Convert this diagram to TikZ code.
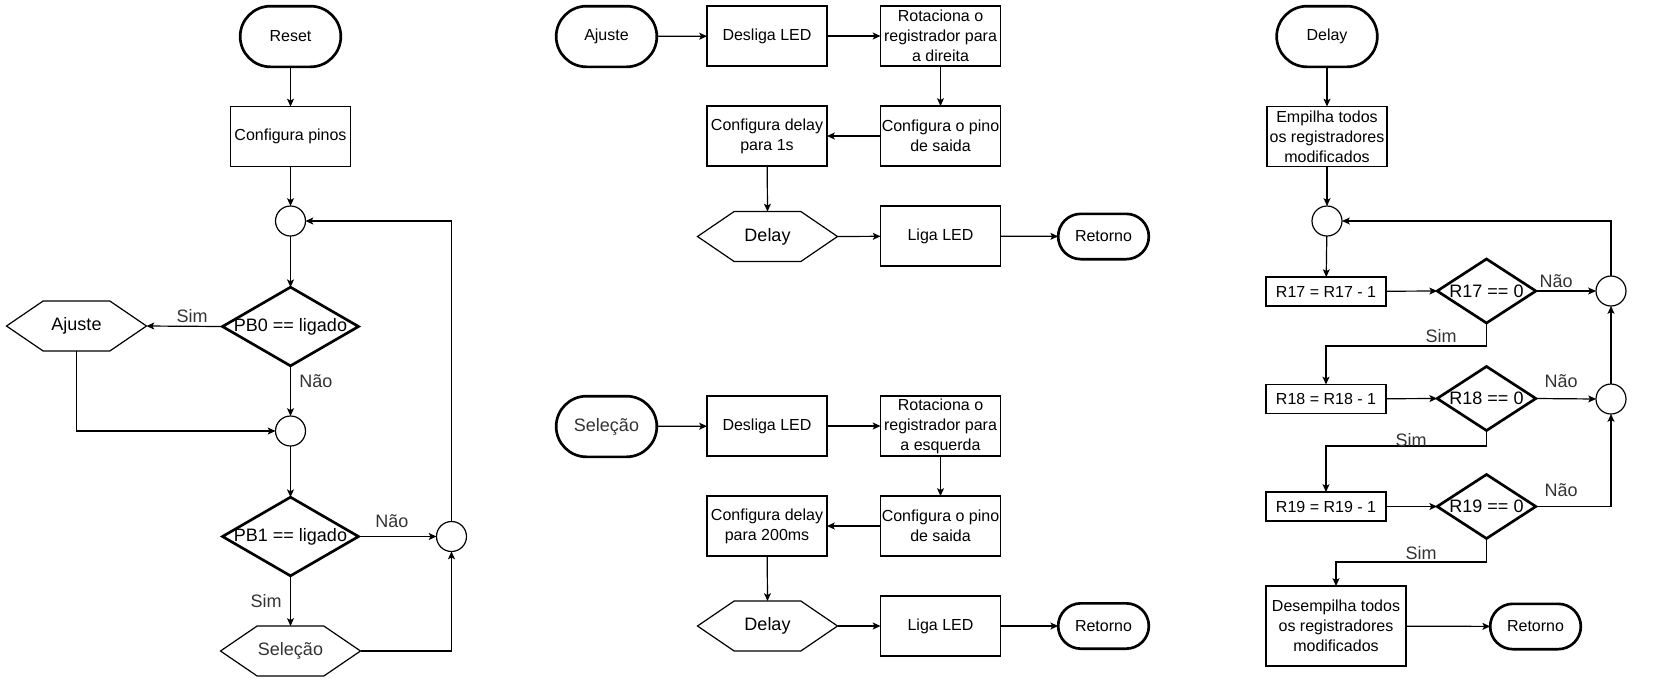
\documentclass[tikz,border=0pt]{standalone}
\usepackage{fontspec}
\setmainfont{Liberation Sans}
\usetikzlibrary{arrows.meta}
\definecolor{lbl}{HTML}{333333}
\newcommand{\myhex}[1]{\draw[line width=0.9pt, line join=miter] ([xshift=27.5pt]#1.north west) -- ([xshift=-27.5pt]#1.north east) -- (#1.east) -- ([xshift=-27.5pt]#1.south east) -- ([xshift=27.5pt]#1.south west) -- (#1.west) -- cycle;}
\newcommand{\mydia}[1]{\draw[line width=2pt, line join=miter] (#1.north) -- (#1.east) -- (#1.south) -- (#1.west) -- cycle;}
\tikzset{
  base/.style={font=\fontsize{12}{15}\selectfont, align=center, inner sep=0pt, outer sep=0pt},
  big/.style={font=\fontsize{13.5}{16}\selectfont},
  proc/.style={base, draw, line width=0.9pt, minimum width=90pt, minimum height=45pt},
  rproc/.style={base, draw, line width=0.9pt, minimum width=90pt, minimum height=21.75pt},
  term/.style={base, draw, line width=2pt, minimum width=75.5pt, minimum height=45.5pt, rounded corners=22.75pt},
  ret/.style={base, draw, line width=2pt, minimum width=68pt, minimum height=34pt, rounded corners=17pt},
  circ/.style={circle, draw, line width=0.9pt, minimum size=22.5pt, inner sep=0pt, outer sep=0pt},
  hexn/.style={base, big, minimum width=105pt, minimum height=37.5pt},
  dian/.style={base, big, minimum width=102pt, minimum height=59pt},
  dias/.style={base, big, minimum width=74pt, minimum height=48pt},
  arr/.style={line width=0.9pt, -{Stealth[length=5.8pt, width=5.2pt, inset=1.3pt]}},
  lab/.style={base, big, text=lbl},
}
\begin{document}
\begin{tikzpicture}[x=0.75pt, y=-0.75pt]
\useasboundingbox (0,0) rectangle (1668,683);
% ---------- left column ----------
\node[term] (reset) at (290.5,36.5) {Reset};
\node[proc] (cfg) at (290.5,136.5) {Configura pinos};
\node[circ] (c1) at (290.5,221) {};
\node[dian] (pb0) at (290.5,326.5) {PB0 == ligado};
\mydia{pb0}
\node[hexn] (ajh) at (76.5,326) {Ajuste};
\myhex{ajh}
\node[circ] (c2) at (290.5,431) {};
\node[dian] (pb1) at (290.5,536.5) {PB1 == ligado};
\mydia{pb1}
\node[circ] (c3) at (451.5,536.5) {};
\node[hexn, text=lbl] (selh) at (290.5,651) {Seleção};
\myhex{selh}
\draw[arr] (reset) -- (cfg);
\draw[arr] (cfg) -- (c1);
\draw[arr] (c1) -- (pb0);
\draw[arr] (pb0.west) -- (ajh.east);
\node[lab] at (192,316) {Sim};
\draw[arr] (pb0.south) -- (c2.north);
\node[lab] at (316,381) {Não};
\draw[arr] (ajh.south) |- (c2.west);
\draw[arr] (c2) -- (pb1.north);
\draw[arr] (pb1.east) -- (c3.west);
\node[lab] at (392,521) {Não};
\draw[arr] (pb1.south) -- (selh.north);
\node[lab] at (266,601) {Sim};
\draw[arr] (selh.east) -| (c3.south);
\draw[arr] (c3.north) |- (c1.east);
% ---------- middle column, block 1 ----------
\node[term] (ajt) at (606.5,36.5) {Ajuste};
\node[proc] (dl1) at (767,36) {Desliga LED};
\node[proc] (rot1) at (940.5,36) {Rotaciona o\\registrador para\\a direita};
\node[proc] (cp1) at (940.5,136) {Configura o pino\\de saida};
\node[proc] (cd1) at (767,136) {Configura delay\\para 1s};
\node[hexn] (dh1) at (767.5,236.5) {Delay};
\myhex{dh1}
\node[proc] (lg1) at (940.5,236) {Liga LED};
\node[ret] (rt1) at (1103.5,236.5) {Retorno};
\draw[arr] (ajt) -- (dl1);
\draw[arr] (dl1) -- (rot1);
\draw[arr] (rot1) -- (cp1);
\draw[arr] (cp1) -- (cd1);
\draw[arr] (cd1) -- (dh1.north);
\draw[arr] (dh1.east) -- (lg1);
\draw[arr] (lg1) -- (rt1);
% ---------- middle column, block 2 ----------
\node[term, big, text=lbl] (selt) at (606.5,426.5) {Seleção};
\node[proc] (dl2) at (767,426) {Desliga LED};
\node[proc] (rot2) at (940.5,426) {Rotaciona o\\registrador para\\a esquerda};
\node[proc] (cp2) at (940.5,526) {Configura o pino\\de saida};
\node[proc] (cd2) at (767,526) {Configura delay\\para 200ms};
\node[hexn] (dh2) at (767.5,626) {Delay};
\myhex{dh2}
\node[proc] (lg2) at (940.5,626) {Liga LED};
\node[ret] (rt2) at (1103.5,626) {Retorno};
\draw[arr] (selt) -- (dl2);
\draw[arr] (dl2) -- (rot2);
\draw[arr] (rot2) -- (cp2);
\draw[arr] (cp2) -- (cd2);
\draw[arr] (cd2) -- (dh2.north);
\draw[arr] (dh2.east) -- (lg2);
\draw[arr] (lg2) -- (rt2);
% ---------- right column ----------
\node[term] (dt) at (1327,36.5) {Delay};
\node[proc] (emp) at (1327,136.5) {Empilha todos\\os registradores\\modificados};
\node[circ] (c4) at (1327,221) {};
\node[rproc] (r17) at (1326,291.5) {R17 = R17 - 1};
\node[dias] (d17) at (1486.5,291) {R17 == 0};
\mydia{d17}
\node[circ] (c5) at (1611,291) {};
\node[rproc] (r18) at (1326,399) {R18 = R18 - 1};
\node[dias] (d18) at (1486.5,398.5) {R18 == 0};
\mydia{d18}
\node[circ] (c6) at (1611,399) {};
\node[rproc] (r19) at (1326,506.5) {R19 = R19 - 1};
\node[dias] (d19) at (1486.5,506.5) {R19 == 0};
\mydia{d19}
\node[proc, minimum width=105pt, minimum height=60pt] (dem) at (1336,626) {Desempilha todos\\os registradores\\modificados};
\node[ret] (rt3) at (1535.5,626.5) {Retorno};
\coordinate (s17) at (1486.5,346);
\coordinate (s18) at (1486.5,446);
\coordinate (s19) at (1486.5,562);
\draw[arr] (dt) -- (emp);
\draw[arr] (emp) -- (c4);
\draw[arr] (c4) -- (r17);
\draw[arr] (r17) -- (d17.west);
\draw[arr] (d17.east) -- (c5.west);
\node[lab] at (1556,281) {Não};
\draw[arr] (d17.south) -- (s17) -| (r18.north);
\node[lab] at (1441,336) {Sim};
\draw[arr] (r18) -- (d18.west);
\draw[arr] (d18.east) -- (c6.west);
\node[lab] at (1561,381) {Não};
\draw[arr] (d18.south) -- (s18) -| (r19.north);
\node[lab] at (1411,440) {Sim};
\draw[arr] (r19) -- (d19.west);
\draw[arr] (d19.east) -| (c6.south);
\node[lab] at (1561,490) {Não};
\draw[arr] (c6.north) -- (c5.south);
\draw[arr] (c5.north) |- (c4.east);
\draw[arr] (d19.south) -- (s19) -| (dem.north);
\node[lab] at (1421,553) {Sim};
\draw[arr] (dem) -- (rt3);
\end{tikzpicture}
\end{document}
